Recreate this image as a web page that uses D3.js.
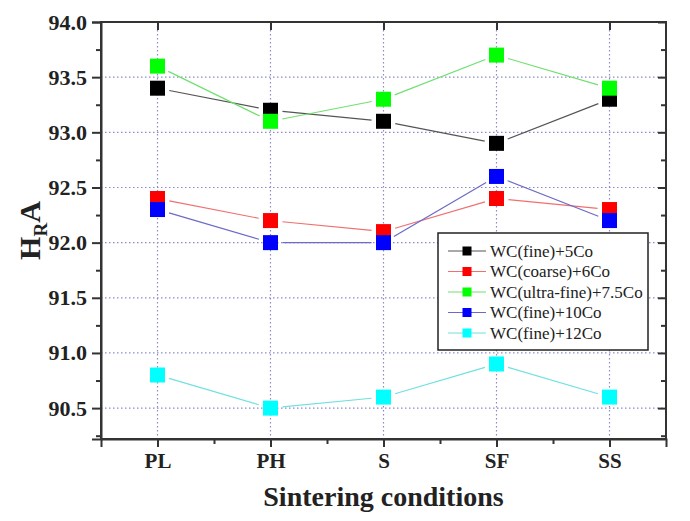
<!DOCTYPE html>
<html><head><meta charset="utf-8">
<script src="https://cdn.jsdelivr.net/npm/d3@7"></script>
<style>body{margin:0;background:#fff;} svg{display:block;}</style>
</head><body>
<svg id="chart" width="690" height="521"></svg>
<script>
const categories = ["PL","PH","S","SF","SS"];
const seriesNames = ["WC(fine)+5Co","WC(coarse)+6Co","WC(ultra-fine)+7.5Co","WC(fine)+10Co","WC(fine)+12Co"];
const s5Co   = [93.4, 93.2, 93.1, 92.9, 93.3];
const s6Co   = [92.4, 92.2, 92.1, 92.4, 92.3];
const s75Co  = [93.6, 93.1, 93.3, 93.7, 93.4];
const s10Co  = [92.3, 92.0, 92.0, 92.6, 92.2];
const s12Co  = [90.8, 90.5, 90.6, 90.9, 90.6];
const yTicks = [90.5, 91.0, 91.5, 92.0, 92.5, 93.0, 93.5, 94.0];
const markerColors = ["#000000","#ff0000","#00ff00","#0000ff","#00ffff"];
const lineColors = ["#555555","#f07070","#70e070","#6a6ac8","#70e0e0"];
const seriesValues = [s5Co, s6Co, s75Co, s10Co, s12Co];

const svg = d3.select("#chart");
const L = 101, R = 666, T = 22, B = 439;
const x = d3.scaleLinear().domain([0.5, 5.5]).range([L, R]);
const y = d3.scaleLinear().domain([90.22, 94.0]).range([B, T]);
const serif = "'Liberation Serif','Times New Roman',serif";
const axisCol = "#333";

// grid
const grid = svg.append("g");
grid.selectAll("line.h").data(yTicks).enter().append("line")
  .attr("x1", L).attr("x2", R).attr("y1", d => y(d)).attr("y2", d => y(d))
  .attr("stroke", "#8a8ac8").attr("stroke-width", 1.2).attr("stroke-dasharray", "1.5,2.5");
grid.selectAll("line.v").data(categories).enter().append("line")
  .attr("x1", (d,i) => x(i+1)).attr("x2", (d,i) => x(i+1)).attr("y1", T).attr("y2", B)
  .attr("stroke", "#8a8ac8").attr("stroke-width", 1.2).attr("stroke-dasharray", "1.5,2.5");

// axes
const fmt = d3.format(".1f");
const yMinor = d3.range(90.25, 94.0, 0.5).filter(v => v >= 90.22);
const yLeft = svg.append("g").attr("transform", `translate(${L},0)`)
  .call(d3.axisLeft(y).tickValues(yTicks).tickFormat(fmt).tickSize(9).tickPadding(5));
const yLeftMinor = svg.append("g").attr("transform", `translate(${L},0)`)
  .call(d3.axisLeft(y).tickValues(yMinor).tickFormat("").tickSize(5));
const yRight = svg.append("g").attr("transform", `translate(${R},0)`)
  .call(d3.axisLeft(y).tickValues(yTicks).tickFormat("").tickSize(8));
const yRightMinor = svg.append("g").attr("transform", `translate(${R},0)`)
  .call(d3.axisLeft(y).tickValues(yMinor).tickFormat("").tickSize(5));
const xVals = categories.map((c,i) => i+1);
const xMinor = [1.5, 2.5, 3.5, 4.5];
const xBottom = svg.append("g").attr("transform", `translate(0,${B})`)
  .call(d3.axisBottom(x).tickValues(xVals).tickFormat(d => categories[d-1]).tickSize(8).tickPadding(6));
const xBottomMinor = svg.append("g").attr("transform", `translate(0,${B})`)
  .call(d3.axisBottom(x).tickValues(xMinor).tickFormat("").tickSize(5));
const xTop = svg.append("g").attr("transform", `translate(0,${T})`)
  .call(d3.axisBottom(x).tickValues(xVals).tickFormat("").tickSize(8));

[yLeft, yLeftMinor, yRight, yRightMinor, xBottom, xBottomMinor, xTop].forEach(g => {
  g.select(".domain").attr("stroke", axisCol).attr("stroke-width", 2);
  g.selectAll(".tick line").attr("stroke", axisCol).attr("stroke-width", 2);
});
[yRight, yRightMinor].forEach(g => g.select(".domain").remove());
[xTop, xBottomMinor, yLeftMinor].forEach(g => g.select(".domain").remove());
yLeft.selectAll(".tick text").attr("font-family", serif).attr("font-weight", "bold")
  .attr("font-size", 22).attr("fill", "#222");
xBottom.selectAll(".tick text").attr("font-family", serif).attr("font-weight", "bold")
  .attr("font-size", 21).attr("fill", "#222");

// frame
svg.append("rect").attr("x", L).attr("y", T).attr("width", R-L).attr("height", B-T)
  .attr("fill", "none").attr("stroke", axisCol).attr("stroke-width", 2);

// series lines with gaps near markers
const gap = 12;
seriesValues.forEach((vals, si) => {
  const g = svg.append("g");
  for (let i = 0; i < vals.length - 1; i++) {
    const x1 = x(i+1), y1 = y(vals[i]), x2 = x(i+2), y2 = y(vals[i+1]);
    const dx = x2 - x1, dy = y2 - y1, len = Math.hypot(dx, dy);
    const ux = dx/len, uy = dy/len;
    g.append("line")
      .attr("x1", x1 + ux*gap).attr("y1", y1 + uy*gap)
      .attr("x2", x2 - ux*gap).attr("y2", y2 - uy*gap)
      .attr("stroke", lineColors[si]).attr("stroke-width", 1.2);
  }
});
// markers
const ms = 15;
seriesValues.forEach((vals, si) => {
  svg.append("g").selectAll("rect").data(vals).enter().append("rect")
    .attr("x", (d,i) => x(i+1) - ms/2).attr("y", d => y(d) - ms/2)
    .attr("width", ms).attr("height", ms)
    .attr("fill", markerColors[si]);
});

// legend
const lg = svg.append("g");
lg.append("rect").attr("x", 438).attr("y", 233).attr("width", 210).attr("height", 117)
  .attr("fill", "#fff").attr("stroke", "#222").attr("stroke-width", 1.5);
seriesNames.forEach((name, i) => {
  const cy = 251 + i*20.5;
  lg.append("line").attr("x1", 448).attr("x2", 486).attr("y1", cy).attr("y2", cy)
    .attr("stroke", lineColors[i]).attr("stroke-width", 1.2);
  lg.append("rect").attr("x", 467-4.5).attr("y", cy-4.5).attr("width", 9).attr("height", 9)
    .attr("fill", markerColors[i]);
  lg.append("text").attr("x", 490).attr("y", cy).attr("dy", "0.35em")
    .attr("font-family", serif).attr("font-size", 17).attr("fill", "#222").text(name);
});

// axis titles
svg.append("text").attr("x", (L+R)/2).attr("y", 506).attr("text-anchor", "middle")
  .attr("font-family", serif).attr("font-weight", "bold").attr("font-size", 28).attr("fill", "#222")
  .text("Sintering conditions");
const yt = svg.append("text").attr("transform", `translate(40,${(T+B)/2}) rotate(-90)`)
  .attr("text-anchor", "middle").attr("font-family", serif).attr("font-weight", "bold")
  .attr("font-size", 30).attr("fill", "#222");
yt.append("tspan").text("H");
yt.append("tspan").attr("font-size", 19).attr("dy", 7).text("R");
yt.append("tspan").attr("dy", -7).text("A");
</script>
</body></html>
